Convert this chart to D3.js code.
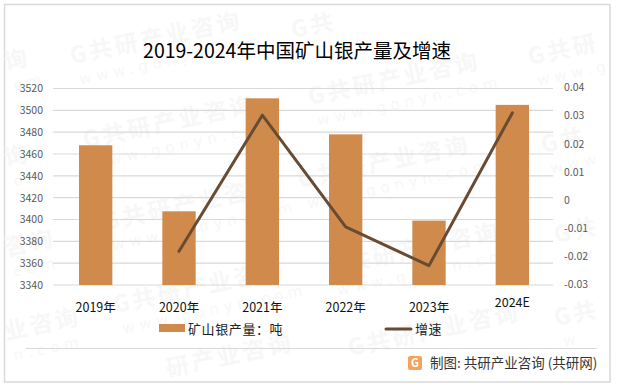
<!DOCTYPE html>
<html>

<head>
    <meta charset="utf-8">
    <title>2019-2024年中国矿山银产量及增速</title>
    <script src="https://d3js.org/d3.v7.min.js"></script>
    <style>
        body {
            margin: 0;
            padding: 0;
            background: #fff;
            font-family: "Noto Sans CJK SC", sans-serif;
        }

        svg {
            display: block;
        }

        .axis path,
        .axis line {
            display: none;
        }

        .axis text {
            font-family: "Noto Sans CJK SC", sans-serif;
            font-size: 10.5px;
            fill: #595959;
        }
    </style>
</head>

<body>
    <div id="chart"></div>
    <script>

        const categories = ['2019年', '2020年', '2021年', '2022年', '2023年', '2024E'];
        const output = [3468, 3407.5, 3511, 3478, 3399, 3505];
        const growth = [null, -0.018, 0.0305, -0.0093, -0.0231, 0.0313];
        const leftTicks = [3340, 3360, 3380, 3400, 3420, 3440, 3460, 3480, 3500, 3520];
        const rightTicks = [-0.03, -0.02, -0.01, 0, 0.01, 0.02, 0.03, 0.04];

        const width = 617;
        const height = 387;

        const x = d3.scaleBand().domain(categories).range([54, 554]).paddingInner(0.6).paddingOuter(0.3);
        const y = d3.scaleLinear().domain([3340, 3520]).range([285, 88.5]);
        const y2 = d3.scaleLinear().domain([-0.03, 0.04]).range([285, 88.5]);

        const svg = d3.select('#chart').append('svg')
            .attr('width', width)
            .attr('height', height);

        // outer frame
        svg.append('rect')
            .attr('x', 4.5)
            .attr('y', 4.5)
            .attr('width', 605.5)
            .attr('height', 377.5)
            .attr('fill', '#fff')
            .attr('stroke', '#d9d9d9')
            .attr('stroke-width', 1.5);

        // watermark, the ones at the edges only show the part that fits
        const marks = [
            [72, 64, 'G共研产业咨询', 'www.gonyn.com'],
            [85, 148, 'G共研产业咨询', 'www.gonyn.com'],
            [105, 230, 'G共研产业咨询', 'www.gonyn.com'],
            [115, 313, 'G共研产业咨询', 'www.gonyn.com'],
            [168, 377, '研产业咨询', ''],
            [310, 105, 'G共研产业咨询', 'www.gonyn.com'],
            [300, 188, 'G共研产业咨询', 'www.gonyn.com'],
            [330, 275, 'G共研产业咨询', 'www.gonyn.com'],
            [350, 356, 'G共研产业咨询', ''],
            [293, 38, 'G共', ''],
            [530, 65, 'G共研', 'www.g'],
            [543, 153, 'G共', 'www'],
            [556, 243, 'G共', 'ww'],
            [556, 326, 'G共', 'w'],
            [6, 70, '询', 'om'],
            [6, 166, '询', 'om'],
            [6, 256, '咨询', 'com'],
            [6, 340, '业咨询', 'n.com']
        ];
        const wm = svg.append('g').selectAll('g')
            .data(marks)
            .enter()
            .append('g')
            .attr('transform', (d) => `translate(${d[0]},${d[1]}) rotate(-12)`)
            .attr('fill', '#f7f7f7');
        wm.append('text')
            .attr('font-size', 23)
            .attr('font-weight', 700)
            .attr('letter-spacing', 3)
            .text((d) => d[2]);
        wm.append('text')
            .attr('x', 4)
            .attr('y', 22)
            .attr('font-size', 15)
            .attr('font-family', 'DejaVu Sans, sans-serif')
            .attr('letter-spacing', 5)
            .text((d) => d[3]);

        svg.append('text')
            .attr('x', 297)
            .attr('y', 58)
            .attr('text-anchor', 'middle')
            .attr('font-size', 19.5)
            .attr('fill', '#000')
            .text('2019-2024年中国矿山银产量及增速');

        svg.append('g')
            .selectAll('line')
            .data(leftTicks)
            .enter()
            .append('line')
            .attr('x1', 53)
            .attr('x2', 553)
            .attr('y1', (d) => y(d))
            .attr('y2', (d) => y(d))
            .attr('stroke', '#d9d9d9')
            .attr('stroke-width', 1.2);

        svg.append('g')
            .selectAll('rect')
            .data(output)
            .enter()
            .append('rect')
            .attr('x', (d, i) => x(categories[i]))
            .attr('y', (d) => y(d))
            .attr('width', x.bandwidth())
            .attr('height', (d) => y(3340) - y(d))
            .attr('fill', '#d08b4c');

        const line = d3.line()
            .defined((d) => d !== null)
            .x((d, i) => x(categories[i]) + x.bandwidth() / 2)
            .y((d) => y2(d));

        svg.append('path')
            .attr('d', line(growth))
            .attr('fill', 'none')
            .attr('stroke', '#674b32')
            .attr('stroke-width', 3)
            .attr('stroke-linecap', 'round')
            .attr('stroke-linejoin', 'round');

        svg.append('g')
            .attr('class', 'axis')
            .attr('transform', 'translate(52,0)')
            .call(d3.axisLeft(y).tickValues(leftTicks).tickSize(0).tickPadding(9).tickFormat(d3.format('d')));

        svg.append('g')
            .attr('class', 'axis')
            .attr('transform', 'translate(554,-1)')
            .call(d3.axisRight(y2).tickValues(rightTicks).tickSize(0).tickPadding(10).tickFormat((d) => String(d)));

        const catAxis = svg.append('g')
            .attr('class', 'axis')
            .attr('transform', 'translate(0,285)')
            .call(d3.axisBottom(x).tickSize(0).tickPadding(18));
        catAxis.selectAll('text')
            .style('font-size', '12.5px')
            .style('fill', '#111')
            .attr('dy', (d) => d === '2024E' ? '0.3em' : '0.71em');

        // legend
        svg.append('rect')
            .attr('x', 159)
            .attr('y', 324)
            .attr('width', 26)
            .attr('height', 8)
            .attr('fill', '#d08b4c');
        svg.append('text')
            .attr('x', 188)
            .attr('y', 334)
            .attr('font-size', 13)
            .attr('letter-spacing', 0.6)
            .attr('fill', '#222')
            .text('矿山银产量：吨');
        svg.append('line')
            .attr('x1', 386)
            .attr('x2', 411)
            .attr('y1', 329)
            .attr('y2', 329)
            .attr('stroke', '#674b32')
            .attr('stroke-width', 3)
            .attr('stroke-linecap', 'round');
        svg.append('text')
            .attr('x', 415)
            .attr('y', 334)
            .attr('font-size', 13)
            .attr('letter-spacing', 0.6)
            .attr('fill', '#222')
            .text('增速');

        // footer
        svg.append('line')
            .attr('x1', 26)
            .attr('x2', 597)
            .attr('y1', 348.5)
            .attr('y2', 348.5)
            .attr('stroke', '#d9d9d9')
            .attr('stroke-width', 1.2);
        svg.append('rect')
            .attr('x', 408)
            .attr('y', 356)
            .attr('width', 14)
            .attr('height', 14)
            .attr('rx', 2)
            .attr('fill', '#f5a25d');
        svg.append('text')
            .attr('x', 415)
            .attr('y', 367)
            .attr('text-anchor', 'middle')
            .attr('font-size', 11)
            .attr('font-weight', 700)
            .attr('fill', '#fff')
            .text('G');
        svg.append('text')
            .attr('x', 430)
            .attr('y', 368)
            .attr('font-size', 13.5)
            .attr('fill', '#333')
            .text('制图: 共研产业咨询 (共研网)');

    </script>

</body>

</html>
